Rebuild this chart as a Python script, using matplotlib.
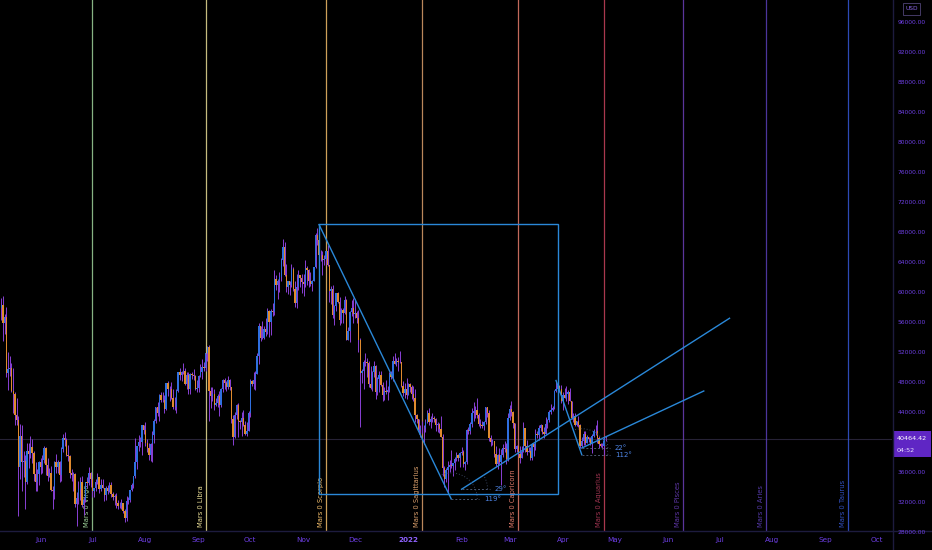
import datetime as dt
import numpy as np
import matplotlib
matplotlib.use('Agg')
import matplotlib.pyplot as plt
from matplotlib.transforms import Affine2D
from matplotlib.lines import Line2D
from matplotlib.patches import Rectangle

# ---------------- data (BTC/USD daily, thousands of USD) ----------------
start_date = '2021-05-08'
first_open_k = 57.4

close_may21 = [57.9, 58.3, 55.8, 56.7, 49.2, 49.7, 49.9, 46.8, 46.4, 43.6, 42.9, 36.7, 40.8, 37.3, 37.5, 34.7, 38.8, 38.4, 39.3, 38.5, 35.7, 34.6, 35.7, 37.3]
high_may21 = [59.4, 59.2, 59.5, 57.0, 58.0, 52.0, 51.4, 50.5, 49.8, 46.6, 45.8, 43.5, 42.4, 42.2, 38.8, 38.2, 39.8, 39.9, 40.8, 40.4, 38.8, 37.3, 36.4, 37.5]
low_may21 = [56.2, 56.3, 53.5, 54.4, 48.6, 46.9, 48.8, 46.6, 43.9, 42.2, 42.3, 30.1, 35.0, 33.5, 35.3, 31.1, 34.4, 36.5, 37.8, 37.2, 34.8, 33.4, 33.4, 34.2]

close_jun21 = [36.7, 37.6, 39.2, 36.9, 35.5, 35.8, 33.6, 33.5, 37.3, 36.7, 37.3, 35.6, 39.1, 40.5, 40.2, 38.3, 38.1, 35.8, 35.6, 35.7, 31.7, 32.5, 33.7, 34.7, 31.6, 32.2, 34.7, 34.5, 35.9, 35.0]
high_jun21 = [37.9, 38.2, 39.5, 39.3, 37.9, 36.5, 36.8, 34.1, 37.5, 38.4, 37.6, 37.4, 39.3, 41.0, 41.3, 40.5, 39.6, 38.2, 36.4, 36.0, 35.8, 33.3, 34.8, 35.3, 35.5, 32.7, 34.7, 35.3, 36.6, 36.0]
low_jun21 = [35.7, 35.9, 37.2, 35.6, 34.8, 35.3, 33.4, 31.0, 32.4, 35.8, 35.9, 34.6, 34.8, 38.7, 39.5, 38.1, 37.4, 35.2, 34.8, 33.4, 31.3, 28.8, 31.7, 32.3, 31.3, 30.2, 32.0, 33.9, 34.2, 34.0]

close_jul21 = [33.5, 33.8, 34.7, 35.3, 33.7, 34.2, 33.9, 32.9, 33.8, 33.5, 34.3, 33.1, 32.7, 32.8, 31.8, 31.4, 31.5, 31.8, 30.8, 29.8, 32.1, 32.3, 33.6, 34.3, 35.4, 37.3, 39.5, 40.0, 40.0, 42.2, 41.6]
high_jul21 = [35.0, 33.9, 35.0, 35.9, 35.3, 35.0, 35.0, 33.9, 34.1, 34.2, 34.6, 34.6, 33.3, 33.1, 33.2, 32.3, 32.0, 32.4, 31.9, 31.0, 32.8, 32.6, 33.6, 34.5, 35.4, 40.5, 39.5, 40.9, 40.6, 42.3, 42.3]
low_jul21 = [32.7, 32.7, 33.4, 34.4, 33.2, 33.5, 33.8, 32.1, 32.3, 33.0, 33.3, 32.7, 32.3, 31.6, 31.2, 31.0, 31.2, 31.1, 30.5, 29.3, 29.5, 31.7, 32.0, 33.4, 33.9, 35.2, 36.4, 38.8, 39.3, 38.3, 41.1]

close_aug21 = [39.9, 39.2, 38.2, 39.7, 40.9, 42.8, 44.6, 43.8, 46.3, 45.6, 45.6, 44.4, 47.8, 47.1, 47.0, 45.9, 44.7, 44.7, 46.8, 49.3, 48.9, 49.3, 49.5, 47.7, 48.9, 47.0, 49.0, 48.9, 48.8, 47.0, 47.2]
high_aug21 = [42.6, 40.4, 39.8, 39.9, 41.4, 43.0, 44.7, 45.3, 46.4, 46.7, 46.7, 46.2, 47.9, 48.1, 47.4, 48.0, 47.1, 46.0, 47.1, 49.3, 49.8, 49.5, 50.5, 49.9, 49.3, 49.3, 49.2, 49.3, 49.7, 48.9, 48.2]
low_aug21 = [39.5, 38.7, 37.6, 37.5, 37.3, 39.9, 42.5, 43.4, 42.8, 45.3, 45.3, 43.8, 44.2, 46.1, 45.5, 45.7, 44.4, 44.2, 43.9, 46.6, 48.3, 48.1, 49.1, 47.6, 47.1, 46.4, 46.4, 48.4, 48.3, 46.9, 46.7]

close_sep21 = [48.8, 49.3, 50.0, 49.9, 51.8, 52.7, 46.8, 46.1, 46.4, 44.9, 45.2, 46.1, 44.9, 47.1, 48.2, 47.8, 47.3, 48.3, 47.3, 43.0, 40.7, 43.6, 44.9, 42.8, 42.7, 43.2, 42.2, 41.0, 41.5, 43.8]
high_sep21 = [48.9, 50.4, 51.0, 50.6, 51.9, 52.8, 52.9, 47.3, 47.3, 47.0, 45.9, 46.4, 46.8, 47.2, 48.4, 48.5, 48.1, 48.8, 48.4, 47.3, 43.6, 44.0, 45.0, 45.2, 42.9, 44.0, 44.3, 42.8, 42.6, 44.1]
low_sep21 = [46.6, 48.6, 48.4, 49.5, 49.5, 50.8, 42.8, 44.5, 45.5, 44.2, 44.8, 44.7, 43.4, 44.7, 46.7, 47.1, 46.8, 47.0, 46.9, 42.5, 39.6, 40.5, 43.1, 40.7, 41.7, 40.8, 42.1, 40.9, 40.8, 41.4]

close_oct21 = [48.1, 47.7, 48.2, 49.1, 51.5, 55.4, 53.8, 53.9, 55.0, 54.7, 57.5, 56.0, 57.4, 57.3, 61.7, 60.9, 61.5, 62.0, 64.3, 66.0, 62.2, 60.7, 61.4, 60.9, 63.1, 60.4, 58.5, 60.6, 62.3, 61.9, 61.3]
high_oct21 = [48.4, 48.3, 49.3, 49.5, 51.9, 55.8, 55.3, 56.1, 55.4, 56.5, 57.8, 57.6, 57.7, 58.5, 62.9, 62.3, 61.7, 62.6, 64.5, 67.0, 66.6, 63.7, 61.5, 61.5, 63.7, 63.3, 61.5, 62.4, 62.9, 62.3, 62.4]
low_oct21 = [43.3, 47.5, 47.1, 46.9, 49.1, 50.4, 53.4, 53.7, 53.7, 54.1, 54.4, 54.0, 54.3, 56.8, 56.9, 60.2, 59.0, 60.0, 61.4, 63.5, 62.1, 60.0, 59.7, 59.6, 60.7, 60.1, 58.0, 57.8, 60.3, 60.7, 59.9]

close_nov21 = [61.0, 63.2, 62.9, 61.4, 61.0, 61.5, 63.3, 67.6, 66.9, 64.9, 64.9, 64.2, 64.4, 65.5, 63.6, 60.1, 60.4, 56.9, 58.1, 59.8, 58.7, 56.3, 57.6, 57.2, 58.9, 53.6, 54.8, 57.3, 57.8, 57.0]
high_nov21 = [62.4, 64.3, 63.5, 63.1, 62.6, 61.6, 63.3, 67.8, 68.5, 69.0, 65.6, 65.4, 64.9, 65.5, 66.3, 63.6, 60.8, 60.9, 58.3, 59.8, 60.0, 59.3, 57.8, 57.9, 59.4, 59.1, 55.3, 57.4, 58.9, 59.2]
low_nov21 = [59.5, 60.7, 60.9, 60.7, 60.8, 60.1, 61.4, 63.2, 66.3, 63.3, 64.1, 62.3, 63.6, 63.6, 63.4, 58.6, 58.4, 56.5, 55.6, 57.4, 58.5, 55.6, 55.9, 55.8, 57.0, 53.6, 53.7, 53.3, 56.8, 55.9]

close_dec21 = [57.2, 56.5, 53.6, 49.2, 49.4, 50.6, 50.6, 50.5, 47.7, 47.2, 49.3, 50.1, 46.7, 48.4, 48.9, 47.6, 46.2, 46.8, 46.7, 46.9, 49.0, 48.6, 50.8, 50.4, 50.8, 50.6, 50.7, 47.5, 46.5, 47.1, 46.3]
high_dec21 = [59.0, 57.4, 57.6, 53.9, 49.7, 50.9, 51.9, 51.2, 50.8, 50.1, 49.5, 50.8, 50.2, 48.6, 49.5, 49.4, 48.0, 47.3, 48.3, 47.5, 49.3, 49.5, 51.4, 51.8, 51.2, 51.3, 52.1, 50.7, 48.1, 47.9, 48.5]
low_dec21 = [56.5, 55.9, 52.0, 42.0, 47.8, 47.1, 50.1, 48.7, 47.3, 47.0, 46.8, 48.7, 45.7, 46.3, 46.6, 47.5, 45.5, 45.6, 46.4, 45.6, 46.6, 48.4, 48.1, 50.4, 50.1, 49.5, 50.5, 47.3, 46.1, 45.9, 45.7]

close_jan22 = [47.7, 47.3, 46.4, 45.9, 43.6, 43.1, 41.6, 41.8, 41.8, 41.8, 42.7, 43.9, 42.6, 43.1, 43.2, 43.1, 42.2, 42.4, 41.7, 40.7, 36.5, 35.1, 36.3, 36.7, 36.9, 36.8, 37.2, 37.7, 38.2, 37.9, 38.5]
high_jan22 = [47.9, 47.9, 47.6, 47.5, 47.1, 43.7, 43.1, 42.3, 42.8, 42.2, 43.0, 44.3, 44.5, 43.5, 43.8, 43.5, 43.2, 42.7, 42.5, 43.5, 41.1, 36.8, 36.5, 37.5, 37.6, 38.9, 37.2, 38.0, 38.6, 38.4, 38.7]
low_jan22 = [46.2, 46.7, 45.7, 45.5, 42.6, 42.5, 41.0, 40.6, 41.2, 39.7, 41.3, 42.5, 42.3, 41.8, 42.6, 42.7, 41.5, 41.3, 41.2, 40.6, 35.5, 34.0, 34.6, 33.0, 36.0, 36.5, 35.5, 36.2, 37.4, 37.4, 36.6]

close_feb22 = [38.7, 37.0, 37.3, 41.6, 41.4, 42.4, 43.8, 44.1, 44.3, 43.6, 42.4, 42.2, 42.1, 42.6, 44.6, 43.9, 40.5, 40.0, 40.1, 38.4, 37.0, 38.2, 37.3, 38.3, 39.2, 39.1, 37.7, 43.2]
high_feb22 = [39.3, 38.9, 37.4, 41.7, 42.0, 42.6, 44.5, 45.3, 44.8, 45.8, 43.9, 43.0, 42.8, 42.8, 44.7, 44.6, 44.2, 40.9, 40.4, 40.1, 39.5, 38.4, 39.2, 39.0, 39.7, 40.1, 39.8, 43.8]
low_feb22 = [38.2, 36.6, 36.3, 37.1, 41.1, 41.1, 42.0, 42.8, 43.2, 43.2, 42.1, 41.8, 41.9, 41.6, 42.4, 43.3, 40.1, 39.5, 39.6, 38.0, 36.8, 36.4, 37.1, 34.3, 38.0, 38.6, 37.0, 37.5]

close_mar22 = [44.4, 44.0, 42.5, 39.1, 39.4, 38.4, 37.9, 38.7, 41.9, 39.4, 38.7, 38.8, 37.8, 39.7, 39.3, 41.1, 40.9, 41.8, 42.2, 41.3, 41.0, 42.4, 42.9, 44.0, 44.3, 44.5, 46.8, 47.1, 47.5, 47.1, 45.5]
high_mar22 = [44.9, 45.4, 44.1, 42.5, 39.6, 39.4, 39.4, 39.4, 42.6, 41.9, 40.2, 39.3, 39.3, 39.9, 39.9, 41.7, 41.4, 42.3, 42.4, 42.3, 42.0, 43.3, 43.0, 44.2, 45.0, 44.8, 46.9, 48.1, 48.2, 47.6, 47.6]
low_mar22 = [42.9, 43.4, 41.8, 38.6, 38.6, 38.1, 37.2, 37.9, 38.6, 38.6, 38.2, 38.7, 37.6, 37.6, 38.1, 38.9, 40.5, 40.2, 41.5, 41.0, 40.5, 41.0, 41.9, 42.6, 43.7, 44.1, 44.4, 46.6, 46.9, 46.6, 45.2]

close_apr22 = [46.3, 45.8, 46.4, 46.6, 45.5, 43.2, 43.4, 42.3, 42.8, 42.2, 39.5, 40.1, 41.1, 39.9, 40.6, 40.4, 39.7, 40.8, 41.5, 41.4, 40.5, 39.7, 39.5, 39.5, 40.4, 40.46442]
high_apr22 = [46.7, 47.2, 47.4, 46.9, 47.2, 45.5, 43.9, 43.9, 42.8, 43.4, 42.4, 40.7, 41.5, 41.5, 40.9, 40.7, 40.6, 41.0, 41.7, 42.2, 42.9, 40.8, 39.9, 39.9, 40.6, 40.8]
low_apr22 = [44.2, 45.8, 45.5, 45.1, 45.4, 43.1, 42.7, 42.1, 42.1, 42.0, 39.2, 39.3, 39.6, 39.6, 39.8, 40.0, 39.6, 38.5, 40.6, 40.9, 39.8, 39.2, 39.3, 39.0, 38.2, 40.1]

last_price = 40464.42
countdown = '04:52'

month_ticks = ['2021-06-01', '2021-07-01', '2021-08-01', '2021-09-01', '2021-10-01', '2021-11-01',
               '2021-12-01', '2022-01-01', '2022-02-01', '2022-03-01', '2022-04-01', '2022-05-01',
               '2022-06-01', '2022-07-01', '2022-08-01', '2022-09-01', '2022-10-01']
month_labels = ['Jun', 'Jul', 'Aug', 'Sep', 'Oct', 'Nov', 'Dec', '2022', 'Feb', 'Mar', 'Apr', 'May',
                'Jun', 'Jul', 'Aug', 'Sep', 'Oct']
price_ticks = [32000, 36000, 44000, 48000, 52000, 56000, 60000, 64000, 68000, 72000, 76000,
               80000, 84000, 88000, 92000, 96000]

mars_signs = ['Virgo', 'Libra', 'Scorpio', 'Sagittarius', 'Capricorn', 'Aquarius', 'Pisces', 'Aries', 'Taurus']
mars_dates = ['2021-07-01', '2021-09-05', '2021-11-14', '2022-01-09', '2022-03-06', '2022-04-25',
              '2022-06-10', '2022-07-28', '2022-09-14']
mars_line_colors = ['#9fd39a', '#e9dd96', '#f2bd6a', '#dca06c', '#e57c6c', '#c8435c', '#6b3fb8', '#5a3fb8', '#3658d6']
mars_text_colors = ['#9fd39a', '#e9dd96', '#f2bd6a', '#dca06c', '#e57c6c', '#9e3450', '#5e36a6', '#5539a8', '#3250c0']

# drawing anchors (date, price)
box_corners = [('2021-11-10', 69000), ('2022-03-29', 33000)]
trend_down1 = [('2021-11-10', 69000), ('2022-01-26', 32400)]
trend_up1 = [('2022-02-01', 33700), ('2022-07-07', 56500)]
trend_down2 = [('2022-03-28', 48200), ('2022-04-12', 38300)]
trend_up2 = [('2022-04-12', 39200), ('2022-06-22', 46800)]
angle_labels = ['119°', '29°', '112°', '22°']

# ---------------- figure ----------------
W, H = 932, 550
BASE = dt.date(2021, 6, 1)


def dnum(s):
    return (dt.date.fromisoformat(s) - BASE).days


plt.rcParams['font.family'] = ['DejaVu Sans']
fig = plt.figure(figsize=(W / 100, H / 100), dpi=100, facecolor='black')
ax = fig.add_axes([0, 19 / H, 892 / W, 531 / H], facecolor='black')
X0, PPD = 40.7, 1.7178
ax.set_xlim(-X0 / PPD, (892 - X0) / PPD)
ax.set_ylim(28133, 98933)
for s in ax.spines.values():
    s.set_visible(False)

pix = Affine2D().scale(1 / W, -1 / H).translate(0, 1) + fig.transFigure

# candles
closes = np.array(close_may21 + close_jun21 + close_jul21 + close_aug21 + close_sep21 + close_oct21 +
                  close_nov21 + close_dec21 + close_jan22 + close_feb22 + close_mar22 + close_apr22) * 1000
highs = np.array(high_may21 + high_jun21 + high_jul21 + high_aug21 + high_sep21 + high_oct21 +
                 high_nov21 + high_dec21 + high_jan22 + high_feb22 + high_mar22 + high_apr22) * 1000
lows = np.array(low_may21 + low_jun21 + low_jul21 + low_aug21 + low_sep21 + low_oct21 +
                low_nov21 + low_dec21 + low_jan22 + low_feb22 + low_mar22 + low_apr22) * 1000
opens = np.concatenate([[first_open_k * 1000], closes[:-1]])
highs = np.maximum(highs, np.maximum(opens, closes))
lows = np.minimum(lows, np.minimum(opens, closes))
xs = dnum(start_date) + np.arange(len(closes))
up = closes >= opens

# price line
ax.axhline(last_price, color='#262236', lw=0.8, zorder=1)

# Mars ingress lines
for sign, d, lc, tc in zip(mars_signs, mars_dates, mars_line_colors, mars_text_colors):
    xd = dnum(d)
    ax.axvline(xd, color=lc, lw=0.9, alpha=0.85, zorder=2)
    ax.annotate(f'Mars 0 {sign}', xy=(xd, 0), xycoords=('data', 'axes fraction'),
                xytext=(-5, 4), textcoords='offset pixels', rotation=90,
                ha='center', va='bottom', fontsize=4.9, color=tc, zorder=3)

ax.vlines(xs, lows, highs, colors='#8a40d6', lw=0.7, zorder=4)
ax.bar(xs[up], (closes - opens)[up], bottom=opens[up], width=0.8, color='#2f6fe0', zorder=5, linewidth=0)
ax.bar(xs[~up], (closes - opens)[~up], bottom=opens[~up], width=0.8, color='#e08a2e', zorder=5, linewidth=0)

# drawings
DC = '#2a88d8'
(bx0, by0), (bx1, by1) = box_corners
ax.add_patch(Rectangle((dnum(bx0), by1), dnum(bx1) - dnum(bx0), by0 - by1, fill=False,
                       edgecolor=DC, lw=1.0, zorder=6))
for seg in (trend_down1, trend_up1, trend_down2, trend_up2):
    ax.plot([dnum(seg[0][0]), dnum(seg[1][0])], [seg[0][1], seg[1][1]], color=DC, lw=1.0, zorder=6)

inv = ax.transData.inverted()


def angle_marker(vertex, other, label):
    vx, vy = ax.transData.transform((dnum(vertex[0]), vertex[1]))
    ox, oy = ax.transData.transform((dnum(other[0]), other[1]))
    ang = np.arctan2(oy - vy, ox - vx)
    base = 28
    pts = inv.transform([(vx, vy), (vx + base, vy)])
    ax.plot(pts[:, 0], pts[:, 1], color='#4a5670', lw=0.7, ls=(0, (2, 2)), zorder=6)
    t = np.linspace(0, ang, 40)
    r = 26
    arc = inv.transform(np.column_stack([vx + r * np.cos(t), vy + r * np.sin(t)]))
    ax.plot(arc[:, 0], arc[:, 1], color='#3a4560', lw=0.7, ls=(0, (1, 2)), zorder=6)
    tx, ty = inv.transform((vx + base + 5, vy))
    ax.text(tx, ty, label, color='#4f86e6', fontsize=5, ha='left', va='center', zorder=7)


angle_marker(trend_down1[1], trend_down1[0], angle_labels[0])
angle_marker(trend_up1[0], trend_up1[1], angle_labels[1])
angle_marker(trend_down2[1], trend_down2[0], angle_labels[2])
angle_marker(trend_up2[0], trend_up2[1], angle_labels[3])

# axes ticks
AXC = '#6e3fe6'
ax.set_xticks([dnum(m) for m in month_ticks])
ax.set_xticklabels(month_labels)
ax.tick_params(axis='x', length=0, pad=4.5, labelsize=5.2, labelcolor=AXC)
for lab in ax.get_xticklabels():
    if lab.get_text() == '2022':
        lab.set_color('#8f62ff')
        lab.set_fontweight('bold')
ax.yaxis.tick_right()
ax.set_yticks(price_ticks)
ax.set_yticklabels([f'{v:.2f}' for v in price_ticks])
ax.tick_params(axis='y', length=0, pad=4, labelsize=4.3, labelcolor=AXC)
fig.text(897 / W, 1 - 533 / H, f'{28000:.2f}', fontsize=4.3, color=AXC, ha='left', va='center')

# separators
fig.add_artist(Line2D([0, W], [531, 531], transform=pix, color='#1d1b3e', lw=1.0))
fig.add_artist(Line2D([892.5, 892.5], [0, H], transform=pix, color='#1d1b3e', lw=1.0))

# price tag
fig.add_artist(Rectangle((893, 457), 38, -26, transform=pix, facecolor='#5f26c4', edgecolor='none'))
fig.text(897 / W, 1 - 438 / H, f'{last_price:.2f}', fontsize=4.6, color='white', ha='left', va='center')
fig.text(897 / W, 1 - 450 / H, countdown, fontsize=4.6, color='#e8e0ff', ha='left', va='center')

# currency box
fig.add_artist(Rectangle((903, 15), 17, -12, transform=pix, facecolor='black', edgecolor='#453a66', lw=0.7))
fig.text(911.5 / W, 1 - 9 / H, 'USD', fontsize=4.2, color='#8b66e6', ha='center', va='center')

fig.savefig('out.png', dpi=100, facecolor='black')
